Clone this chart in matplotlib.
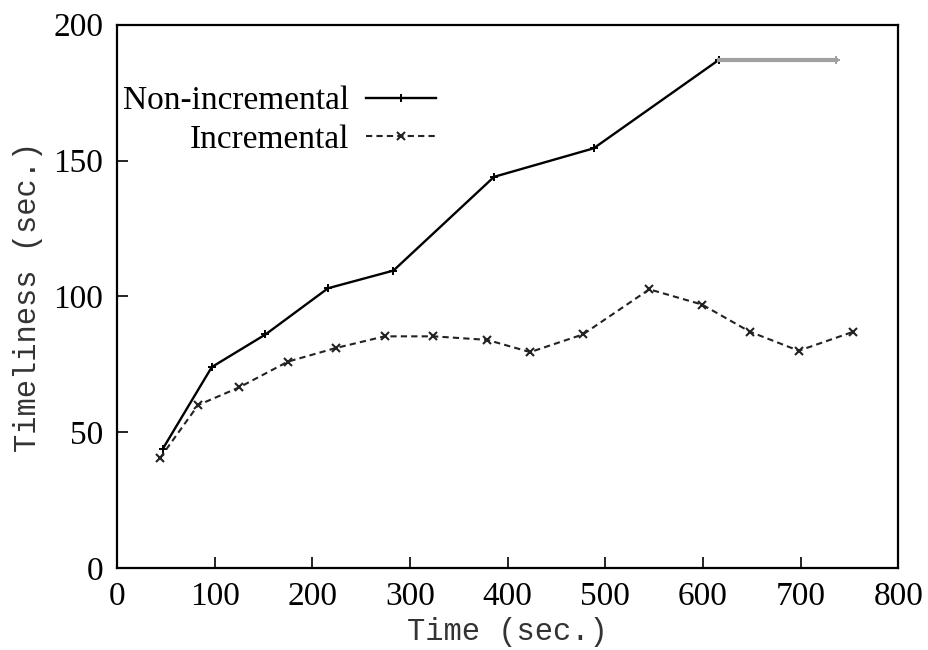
import matplotlib
matplotlib.use("Agg")
import matplotlib.pyplot as plt

# Data
noninc_x = [47, 97, 152, 216, 283, 386, 488, 616, 736]
noninc_y = [44, 74, 86, 103, 109.5, 144, 154.5, 187, 187]
inc_x = [44, 83, 125, 175, 224, 274, 324, 379, 423, 477, 545, 599, 648, 698, 754]
inc_y = [40.5, 60, 66.5, 76, 81, 85.3, 85.3, 84, 79.5, 86, 102.6, 97, 87, 80, 87]
xticks = [0, 100, 200, 300, 400, 500, 600, 700, 800]
yticks = [0, 50, 100, 150, 200]

serif = ["Liberation Serif", "DejaVu Serif"]
mono = ["Liberation Mono", "DejaVu Sans Mono"]

fig = plt.figure(figsize=(9.29, 6.5), dpi=100)
ax = fig.add_axes([0.126, 0.126, 0.841, 0.836])

ax.plot(noninc_x[:-1], noninc_y[:-1], color="black", lw=1.7, marker="+",
        markersize=6, markeredgewidth=1.4, label="Non-incremental")
ax.plot(noninc_x[-2:], noninc_y[-2:], color="#a0a0a0", lw=3.0, marker="+",
        markersize=6, markeredgewidth=1.4, markevery=[1])
ax.plot(inc_x, inc_y, color="#222222", lw=1.5, ls=(0, (3, 2)), marker="x",
        markersize=6, markeredgewidth=1.5, label="Incremental")

ax.set_xlim(0, 800)
ax.set_ylim(0, 200)
ax.set_xticks(xticks)
ax.set_yticks(yticks)
ax.tick_params(direction="in", length=8, width=1.2, labelsize=24, pad=10)
for lab in ax.get_xticklabels() + ax.get_yticklabels():
    lab.set_fontfamily(serif)
for s in ax.spines.values():
    s.set_linewidth(1.6)

ax.set_xlabel("Time (sec.)", fontfamily=mono, fontsize=22, color="#333333", labelpad=3)
ax.set_ylabel("Timeliness (sec.)", fontfamily=mono, fontsize=22, color="#333333", labelpad=7)

leg = ax.legend(loc="upper left", bbox_to_anchor=(-0.031, 0.943), frameon=False,
                markerfirst=False, handlelength=2.1, handletextpad=0.5,
                labelspacing=0.25, alignment="right",
                prop={"family": serif, "size": 24})

fig.savefig("out.png", dpi=100)
